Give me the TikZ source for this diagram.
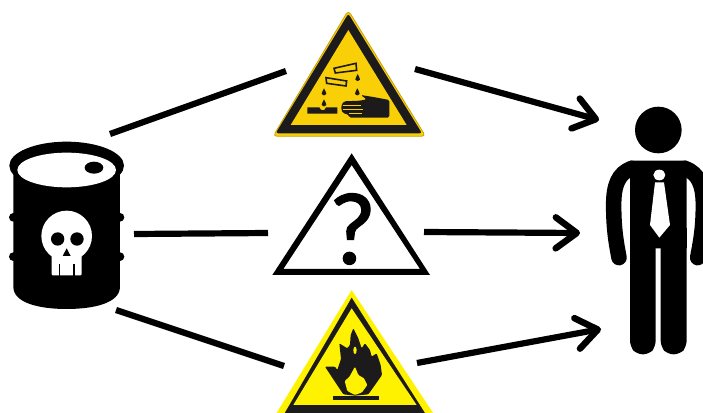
\documentclass[tikz,border=0pt]{standalone}
\usepackage{fontspec}
\setmainfont{Carlito}
\newfontfamily\qfont[FakeBold=1.2]{Carlito}
\usetikzlibrary{arrows.meta}
\definecolor{signblack}{HTML}{1D1A1B}
\definecolor{gold}{HTML}{F9CF07}
\definecolor{goldedge}{HTML}{C9A208}
\definecolor{flameyellow}{HTML}{FFF200}
\tikzset{
  conn/.style={line width=6.2pt,black},
  arr/.style={conn,-{Straight Barb[length=21pt,width=31pt,line width=6.5pt,round=false]}},
  zoomA/.style={shift={(260,0)},x=0.3333pt,y=-0.3333pt},
  zoomB/.style={shift={(260,285)},x=0.3333pt,y=-0.3333pt},
  zoomC/.style={shift={(0,130)},x=0.3333pt,y=-0.3333pt},
  zoomD/.style={shift={(590,95)},x=0.3333pt,y=-0.3333pt},
  zoomE/.style={shift={(260,145)},x=0.3333pt,y=-0.3333pt},
}
\begin{document}
\begin{tikzpicture}[x=1pt,y=-1pt]
\useasboundingbox (0,0) rectangle (703,412);
\clip (0,0) rectangle (703,412);

% connectors
\coordinate (a1) at (110,134); \coordinate (a2) at (286,71);
\coordinate (b1) at (415,69);  \coordinate (b2) at (599,120);
\coordinate (c1) at (134,234); \coordinate (c2) at (268,233);
\coordinate (d1) at (424,232); \coordinate (d2) at (580,233);
\coordinate (e1) at (116,310); \coordinate (e2) at (284,366);
\coordinate (f1) at (417,363); \coordinate (f2) at (601,329);
\draw[conn] (a1) -- (a2);
\draw[arr] (b1) -- (b2);
\draw[conn] (c1) -- (c2);
\draw[arr] (d1) -- (d2);
\draw[conn] (e1) -- (e2);
\draw[arr] (f1) -- (f2);

% corrosive sign
\begin{scope}[zoomA]
\fill[gold,draw=goldedge,line width=0.8pt,rounded corners=4pt] (265,31) -- (497,409) -- (39,409) -- cycle;
\fill[signblack,rounded corners=2.5pt] (265,41) -- (486,400) -- (47,400) -- cycle;
\fill[gold] (265,90) -- (440,375) -- (92,375) -- cycle;
\begin{scope}[signblack]
\draw[line width=1.6pt,fill=gold] (222,205) -- (288,190) -- (290,211) -- (226,219) -- cycle;
\draw[line width=1.6pt,fill=gold] (198,233) -- (260,243) -- (258,258) -- (200,250) -- cycle;
\foreach \dx/\dy in {293/222,292/265,192/265,192/298}
  \fill (\dx,\dy) .. controls (\dx+3,\dy+8) and (\dx+8,\dy+13) .. (\dx+7,\dy+17)
    .. controls (\dx+5,\dy+23) and (\dx-5,\dy+23) .. (\dx-7,\dy+17)
    .. controls (\dx-8,\dy+13) and (\dx-3,\dy+8) .. (\dx,\dy) -- cycle;
\fill (142,322) -- (178,322) .. controls (182,334) and (195,334) .. (198,322) -- (232,322) -- (232,341) -- (142,341) -- cycle;
\fill[rounded corners=1.5pt] (302,285) -- (340,291) -- (388,300) -- (388,353) -- (268,353) -- (266,344) -- (250,340) -- (244,330) -- (244,316) -- (252,304) -- (300,302) -- (320,298) -- cycle;
\end{scope}
\draw[gold,line width=0.7pt] (248,316) -- (304,316) (248,328) -- (308,328) (268,341) -- (306,341);
\end{scope}

% unknown sign
\begin{scope}[zoomE]
\fill[black,even odd rule] (275,25) -- (510,390) -- (37,390) -- cycle (275,60) -- (70,372) -- (480,372) -- cycle;
\node[inner sep=0pt,font=\fontsize{103pt}{103pt}\selectfont\qfont,text=black] (qmark) at (277,252) {?};
\end{scope}

% flammable sign
\begin{scope}[zoomB]
\fill[flameyellow] (275,15) -- (530,400) -- (40,400) -- cycle;
\fill[signblack] (275,38) -- (505,400) -- (65,400) -- cycle;
\fill[flameyellow] (275,70) -- (470,360) -- (100,360) -- cycle;
\fill[signblack,rounded corners=1pt] (285,332) -- (250,328) -- (228,295) -- (195,245) -- (225,245) -- (232,255) -- (243,222) -- (238,175) -- (262,190) -- (270,180) -- (272,150) -- (280,130) -- (295,160) -- (305,190) -- (315,175) -- (330,195) -- (335,215) -- (350,205) -- (362,240) -- (366,270) -- (345,300) -- (325,328) -- cycle;
\fill[flameyellow,rounded corners=1pt] (285,330) -- (262,318) -- (254,288) -- (268,276) -- (285,245) -- (295,270) -- (312,280) -- (322,300) -- (306,322) -- cycle;
\fill[flameyellow] (285,196) ellipse [x radius=5,y radius=11];
\fill[signblack] (220,333) rectangle (358,344);
\end{scope}

% barrel
\begin{scope}[zoomC]
\fill[black] (40,110) -- (40,470) .. controls (40,520) and (120,537) .. (200,537) .. controls (280,537) and (360,520) .. (360,470) -- (360,110) -- cycle;
\fill[black] (200,107) ellipse [x radius=172,y radius=72];
\fill[white] (200,120) ellipse [x radius=148,y radius=52];
\fill[black] (282,113) ellipse [x radius=28,y radius=18];
\foreach \ry in {262,380} {
  \fill[black] (40,\ry) circle [radius=13];
  \fill[black] (360,\ry) circle [radius=13];
}
\fill[white] (200,318) circle [radius=76];
\fill[white,rounded corners=1pt] (155,370) rectangle (245,436);
\fill[black] (173,327) circle [radius=20];
\fill[black] (231,327) circle [radius=20];
\fill[black] (200,355) -- (212,378) -- (188,378) -- cycle;
\fill[black] (176,402) rectangle (181,437);
\fill[black] (219,402) rectangle (224,437);
\end{scope}

% person
\begin{scope}[zoomD]
\fill[black] (205,105) circle [radius=70];
\fill[black] (125,197) -- (290,197) -- (290,460) -- (120,460) -- (120,197) -- cycle;
\draw[black,line width=15.5pt,line cap=round,line join=round] (125,220) .. controls (85,235) and (71,270) .. (71,330) .. controls (71,400) and (78,440) .. (87,488);
\draw[black,line width=15.5pt,line cap=round,line join=round] (285,220) .. controls (325,235) and (340,270) .. (340,330) .. controls (340,400) and (332,440) .. (323,488);
\fill[black,rounded corners=6pt] (120,440) -- (197,440) -- (197,755) -- (178,778) -- (140,778) -- (120,755) -- cycle;
\fill[black,rounded corners=6pt] (212,440) -- (290,440) -- (290,755) -- (270,778) -- (232,778) -- (212,755) -- cycle;
\fill[black] (120,400) rectangle (290,458);
\fill[white] (208,240) ellipse [x radius=18,y radius=16];
\fill[white] (195,262) -- (222,262) -- (240,390) -- (208,428) -- (180,390) -- cycle;
\end{scope}
\end{tikzpicture}
\end{document}
